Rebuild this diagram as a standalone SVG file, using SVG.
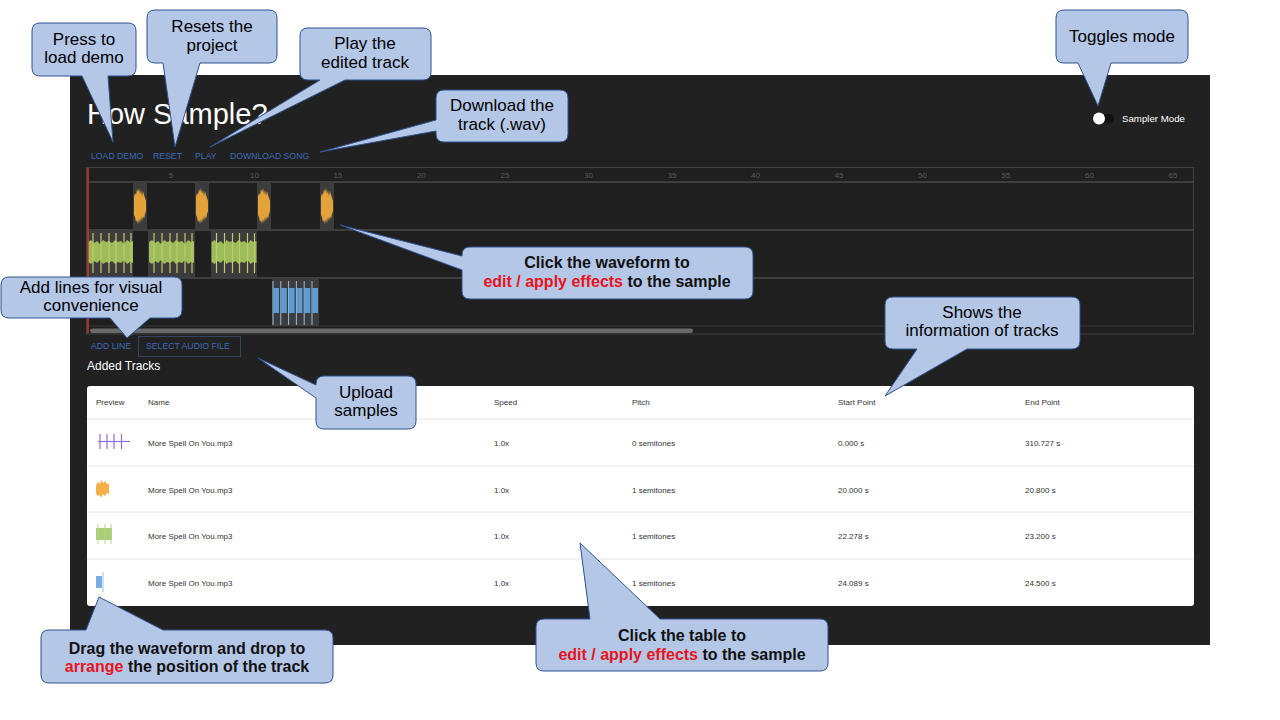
<svg xmlns="http://www.w3.org/2000/svg" xmlns:xlink="http://www.w3.org/1999/xlink" width="1280" height="720" viewBox="0 0 1280 720">
<style>
.ui{font-family:"Liberation Sans",Arial,Helvetica,sans-serif;}
.btn{font-family:"Liberation Sans",Arial,sans-serif;font-size:8.7px;fill:#3d6cb8;}
.ruler{font-family:"Liberation Sans",Arial,sans-serif;font-size:8px;fill:#5c5c5c;text-anchor:middle;}
.th{font-family:"Liberation Sans",Arial,sans-serif;font-size:8px;fill:#333;}
.co{fill:#b4c7e7;stroke:#2f528f;stroke-width:1;}
.ct{font-family:"Liberation Sans",Arial,sans-serif;font-size:17px;fill:#000;text-anchor:middle;}
.cb{font-family:"Liberation Sans",Arial,sans-serif;font-size:16px;font-weight:bold;fill:#111;text-anchor:middle;}
.red{fill:#e8141c;}
.clip{fill:#3c3c3c;}
.row{stroke:#4a4a4a;stroke-width:1.5;}
.sep{stroke:#e4e4e4;stroke-width:1;}
</style>
<defs>
<path id="wOrange" fill="#e3a33a" d="M1,14 L2,10 L3,12 L4,6 L5,9 L6,5 L7,11 L8,7 L9,13 L10,8 L11,12 L12,15 L13,18 L13,28 L12,31 L11,36 L10,33 L9,38 L8,34 L7,40 L6,36 L5,41 L4,37 L3,39 L2,34 L1,32 Z"/>
<g id="wGreen">
<path fill="#9dbd5b" d="M0,11 L3,9 L6,12 L9,10 L12,13 L15,9 L18,11 L21,10 L24,12 L27,9 L30,11 L33,10 L36,13 L39,9 L42,11 L45,10 L45,32 L42,31 L39,33 L36,29 L33,32 L30,31 L27,33 L24,30 L21,32 L18,31 L15,33 L12,29 L9,32 L6,30 L3,33 L0,31 Z"/>
<g stroke="#c4c96b" stroke-width="1.2">
<line x1="5" y1="2" x2="5" y2="42"/><line x1="13" y1="2" x2="13" y2="42"/><line x1="21" y1="2" x2="21" y2="42"/><line x1="28" y1="2" x2="28" y2="42"/><line x1="36" y1="2" x2="36" y2="42"/><line x1="43" y1="2" x2="43" y2="42"/>
</g>
</g>
<g id="wBlue">
<rect x="1.5" y="9" width="5.5" height="25" fill="#5d9bd1"/>
<line x1="1" y1="2" x2="1" y2="46" stroke="#8fc0e8" stroke-width="1"/>
</g>
</defs>

<rect width="1280" height="720" fill="#ffffff"/>

<g id="app">
<rect x="70" y="75" width="1140" height="570" fill="#212121"/>
<text class="ui" x="87" y="124" font-size="29" fill="#ffffff">How Sample?</text>
<g id="toolbar">
<text class="btn" x="91" y="159">LOAD DEMO</text>
<text class="btn" x="153" y="159">RESET</text>
<text class="btn" x="195" y="159">PLAY</text>
<text class="btn" x="230" y="159">DOWNLOAD SONG</text>
</g>
<g id="toggle">
<rect x="1092" y="114" width="22" height="9" rx="4.5" fill="#111111"/>
<circle cx="1099" cy="118.5" r="6" fill="#ffffff"/>
<text class="ui" x="1122" y="122" font-size="9.7" fill="#ffffff">Sampler Mode</text>
</g>

<g id="timeline">
<rect x="86.5" y="167.5" width="1107" height="166.5" fill="#1f1f1f" stroke="#434343" stroke-width="1"/>
<line class="row" x1="87" y1="182" x2="1194" y2="182"/>
<line class="row" x1="87" y1="230" x2="1194" y2="230"/>
<line class="row" x1="87" y1="278" x2="1194" y2="278"/>
<line x1="87" y1="326" x2="1194" y2="326" stroke="#3a3a3a" stroke-width="1"/>
<rect x="90" y="328.5" width="603" height="4.5" rx="2.2" fill="#6a6a6a"/>
<g id="ruler">
<text class="ruler" x="171" y="178">5</text>
<text class="ruler" x="254.5" y="178">10</text>
<text class="ruler" x="338" y="178">15</text>
<text class="ruler" x="421.5" y="178">20</text>
<text class="ruler" x="505" y="178">25</text>
<text class="ruler" x="588.5" y="178">30</text>
<text class="ruler" x="672" y="178">35</text>
<text class="ruler" x="755.5" y="178">40</text>
<text class="ruler" x="839" y="178">45</text>
<text class="ruler" x="922.5" y="178">50</text>
<text class="ruler" x="1006" y="178">55</text>
<text class="ruler" x="1089.5" y="178">60</text>
<text class="ruler" x="1173" y="178">65</text>
</g>
<g id="track-orange">
<rect class="clip" x="133" y="183" width="14" height="46"/>
<rect class="clip" x="195" y="183" width="14" height="46"/>
<rect class="clip" x="257" y="183" width="14" height="46"/>
<rect class="clip" x="320" y="183" width="14" height="46"/>
<use xlink:href="#wOrange" x="133" y="183"/>
<use xlink:href="#wOrange" x="195" y="183"/>
<use xlink:href="#wOrange" x="257" y="183"/>
<use xlink:href="#wOrange" x="320" y="183"/>
</g>
<g id="track-green">
<rect class="clip" x="88" y="231" width="45" height="46"/>
<rect class="clip" x="148" y="231" width="47" height="46"/>
<rect class="clip" x="211" y="231" width="46" height="46"/>
<use xlink:href="#wGreen" x="88" y="231"/>
<use xlink:href="#wGreen" x="149" y="231"/>
<use xlink:href="#wGreen" x="211.5" y="231"/>
</g>
<g id="track-blue">
<rect class="clip" x="272" y="279" width="47" height="47"/>
<use xlink:href="#wBlue" x="272" y="279"/>
<use xlink:href="#wBlue" x="279.8" y="279"/>
<use xlink:href="#wBlue" x="287.6" y="279"/>
<use xlink:href="#wBlue" x="295.4" y="279"/>
<use xlink:href="#wBlue" x="303.2" y="279"/>
<use xlink:href="#wBlue" x="311" y="279"/>
</g>
<line x1="88" y1="168" x2="88" y2="333" stroke="#d0392b" stroke-width="1.5"/>
</g>

<g id="controls">
<text class="btn" x="91" y="349">ADD LINE</text>
<rect x="138.5" y="336.5" width="102" height="20" fill="none" stroke="#34435e" stroke-width="1"/>
<text class="btn" x="146" y="349">SELECT AUDIO FILE</text>
<text class="ui" x="87" y="370" font-size="12" fill="#ffffff">Added Tracks</text>
</g>

<g id="table">
<rect x="87" y="386" width="1107" height="220" rx="3" fill="#ffffff"/>
<text class="th" x="96" y="405">Preview</text>
<text class="th" x="148" y="405">Name</text>
<text class="th" x="494" y="405">Speed</text>
<text class="th" x="632" y="405">Pitch</text>
<text class="th" x="838" y="405">Start Point</text>
<text class="th" x="1025" y="405">End Point</text>
<line class="sep" x1="87" y1="419" x2="1194" y2="419"/>
<line class="sep" x1="87" y1="466" x2="1194" y2="466" stroke-width="1.6"/>
<line class="sep" x1="87" y1="512" x2="1194" y2="512"/>
<line class="sep" x1="87" y1="559" x2="1194" y2="559"/>
<g id="row1">
<g stroke="#8a6fe0" stroke-width="1.2">
<line x1="98" y1="441.5" x2="130" y2="441.5"/>
<line x1="100" y1="434" x2="100" y2="449"/>
<line x1="107" y1="434" x2="107" y2="449"/>
<line x1="114" y1="434" x2="114" y2="449"/>
<line x1="121.5" y1="434" x2="121.5" y2="449"/>
</g>
<text class="th" x="148" y="446">More Spell On You.mp3</text>
<text class="th" x="494" y="446">1.0x</text>
<text class="th" x="632" y="446">0 semitones</text>
<text class="th" x="838" y="446">0.000 s</text>
<text class="th" x="1025" y="446">310.727 s</text>
</g>
<g id="row2">
<path fill="#f5b04a" d="M96,485 L98,482 L100,484 L101,480 L103,483 L105,481 L107,484 L109,483 L109,494 L107,493 L105,496 L103,494 L101,498 L100,495 L98,496 L96,494 Z"/>
<text class="th" x="148" y="493">More Spell On You.mp3</text>
<text class="th" x="494" y="493">1.0x</text>
<text class="th" x="632" y="493">1 semitones</text>
<text class="th" x="838" y="493">20.000 s</text>
<text class="th" x="1025" y="493">20.800 s</text>
</g>
<g id="row3">
<rect x="96" y="528" width="16" height="12" fill="#a8cf78"/>
<g stroke="#b9d38a" stroke-width="1">
<line x1="98" y1="524" x2="98" y2="544"/>
<line x1="105" y1="524" x2="105" y2="544"/>
<line x1="111" y1="524" x2="111" y2="544"/>
</g>
<text class="th" x="148" y="539">More Spell On You.mp3</text>
<text class="th" x="494" y="539">1.0x</text>
<text class="th" x="632" y="539">1 semitones</text>
<text class="th" x="838" y="539">22.278 s</text>
<text class="th" x="1025" y="539">23.200 s</text>
</g>
<g id="row4">
<rect x="96" y="576" width="6" height="12" fill="#7aaee0"/>
<line x1="103" y1="572" x2="103" y2="592" stroke="#9cc3ea" stroke-width="1"/>
<text class="th" x="148" y="586">More Spell On You.mp3</text>
<text class="th" x="494" y="586">1.0x</text>
<text class="th" x="632" y="586">1 semitones</text>
<text class="th" x="838" y="586">24.089 s</text>
<text class="th" x="1025" y="586">24.500 s</text>
</g>
</g>
</g>

<g id="callout-load-demo">
<path class="co" d="M40,23 H128 Q136,23 136,31 V68 Q136,76 128,76 H108 L113,142 L82,76 H40 Q32,76 32,68 V31 Q32,23 40,23 Z"/>
<text class="ct" x="84" y="45">Press to</text>
<text class="ct" x="84" y="63">load demo</text>
</g>
<g id="callout-reset">
<path class="co" d="M155,10 H269 Q277,10 277,18 V55 Q277,63 269,63 H200 L175,147 L163,63 H155 Q147,63 147,55 V18 Q147,10 155,10 Z"/>
<text class="ct" x="212" y="32">Resets the</text>
<text class="ct" x="212" y="51">project</text>
</g>
<g id="callout-play">
<path class="co" d="M308,28 H423 Q431,28 431,36 V72 Q431,80 423,80 H345 L210,147 L320,80 H308 Q300,80 300,72 V36 Q300,28 308,28 Z"/>
<text class="ct" x="365" y="49">Play the</text>
<text class="ct" x="365" y="68">edited track</text>
</g>
<g id="callout-download">
<path class="co" d="M444,90 H560 Q568,90 568,98 V134 Q568,142 560,142 H444 Q436,142 436,134 V131 L320,152 L436,120 V98 Q436,90 444,90 Z"/>
<text class="ct" x="502" y="111">Download the</text>
<text class="ct" x="502" y="130">track (.wav)</text>
</g>
<g id="callout-toggle">
<path class="co" d="M1064,10 H1180 Q1188,10 1188,18 V55 Q1188,63 1180,63 H1111 L1098,106 L1078,63 H1064 Q1056,63 1056,55 V18 Q1056,10 1064,10 Z"/>
<text class="ct" x="1122" y="42">Toggles mode</text>
</g>
<g id="callout-waveform">
<path class="co" d="M470,247 H745 Q753,247 753,255 V291 Q753,299 745,299 H470 Q462,299 462,291 V270 L340,225 L462,256 V255 Q462,247 470,247 Z"/>
<text class="cb" x="607" y="268">Click the waveform to</text>
<text class="cb" x="607" y="287"><tspan class="red">edit / apply effects</tspan> to the sample</text>
</g>
<g id="callout-add-line">
<path class="co" d="M9,277 H174 Q182,277 182,285 V310 Q182,318 174,318 H150 L127,338 L110,318 H9 Q1,318 1,310 V285 Q1,277 9,277 Z"/>
<text class="ct" x="91" y="293">Add lines for visual</text>
<text class="ct" x="91" y="311">convenience</text>
</g>
<g id="callout-upload">
<path class="co" d="M324,376 H408 Q416,376 416,384 V421 Q416,429 408,429 H324 Q316,429 316,421 V398 L258,358 L316,385 V384 Q316,376 324,376 Z"/>
<text class="ct" x="366" y="398">Upload</text>
<text class="ct" x="366" y="416">samples</text>
</g>
<g id="callout-info">
<path class="co" d="M893,297 H1072 Q1080,297 1080,305 V341 Q1080,349 1072,349 H967 L885,396 L917,349 H893 Q885,349 885,341 V305 Q885,297 893,297 Z"/>
<text class="ct" x="982" y="318">Shows the</text>
<text class="ct" x="982" y="336">information of tracks</text>
</g>
<g id="callout-drag">
<path class="co" d="M49,630 H86 L99,597 L163,630 H325 Q333,630 333,638 V675 Q333,683 325,683 H49 Q41,683 41,675 V638 Q41,630 49,630 Z"/>
<text class="cb" x="187" y="654">Drag the waveform and drop to</text>
<text class="cb" x="187" y="672"><tspan class="red">arrange</tspan> the position of the track</text>
</g>
<g id="callout-table">
<path class="co" d="M544,619 H590 L580,543 L660,619 H820 Q828,619 828,627 V663 Q828,671 820,671 H544 Q536,671 536,663 V627 Q536,619 544,619 Z"/>
<text class="cb" x="682" y="641">Click the table to</text>
<text class="cb" x="682" y="660"><tspan class="red">edit / apply effects</tspan> to the sample</text>
</g>
</svg>
